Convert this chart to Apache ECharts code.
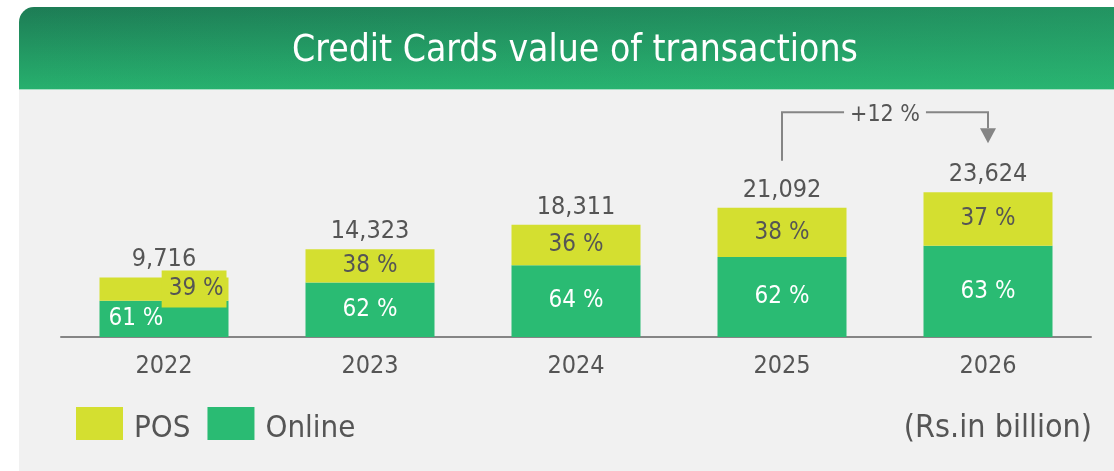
<!DOCTYPE html>
<html>
<head>
<meta charset="utf-8">
<script src="https://cdn.jsdelivr.net/npm/echarts@6/dist/echarts.min.js"></script>
<style>
  html, body { margin: 0; padding: 0; background: #ffffff; }
  #chart { width: 1114px; height: 471px; }
</style>
</head>
<body>
<div id="chart"></div>
<script>
// Credit card transaction value, split into Online and POS shares
const years = ['2022', '2023', '2024', '2025', '2026'];
const totals = [9716, 14323, 18311, 21092, 23624];      // Rs. billion
const onlinePct = [61, 62, 64, 62, 63];
const posPct = [39, 38, 36, 38, 37];
const growthText = '+12 %';                               // 2025 -> 2026
const titleText = 'Credit Cards value of transactions';
const unitText = '(Rs.in billion)';

const FONT = "'DejaVu Sans Condensed', 'DejaVu Sans', 'Noto Sans', sans-serif";
const GREEN = '#2abb73';
const YELLOW = '#d4df30';
const TEXT = '#555555';
const LINE = '#858585';

const onlineVals = totals.map((t, i) => t * onlinePct[i] / 100);
const posVals = totals.map((t, i) => t * posPct[i] / 100);

const chart = echarts.init(document.getElementById('chart'), null, { renderer: 'canvas' });

const baseGraphic = [
  { id: 'panel', type: 'rect', z: 0, silent: true,
    shape: { x: 19, y: 89, width: 1095, height: 382 },
    style: { fill: '#f1f1f1' } },
  { id: 'header', type: 'rect', z: 0, silent: true,
    shape: { x: 19, y: 7, width: 1095, height: 82, r: [15, 0, 0, 0] },
    style: { fill: new echarts.graphic.LinearGradient(0, 0, 0, 1, [
      { offset: 0, color: '#1d7c55' }, { offset: 1, color: '#27b06e' }]) } },
  { id: 'headerSheen', type: 'rect', z: 0, silent: true,
    shape: { x: 19, y: 7, width: 1095, height: 82, r: [15, 0, 0, 0] },
    style: { fill: new echarts.graphic.LinearGradient(0, 0, 1, 0, [
      { offset: 0, color: 'rgba(45,190,120,0)' }, { offset: 1, color: 'rgba(45,190,120,0.35)' }]) } },
  { id: 'headerEdge', type: 'rect', z: 0, silent: true,
    shape: { x: 19, y: 89, width: 1095, height: 1 },
    style: { fill: '#a9dfc4' } },
  { id: 'title', type: 'text', z: 5, silent: true,
    x: 575, y: 51,
    style: { text: titleText, fill: '#ffffff', font: '37px ' + FONT,
             align: 'center', verticalAlign: 'middle' } },
  { id: 'unit', type: 'text', z: 5, silent: true,
    x: 1092, y: 429,
    style: { text: unitText, fill: TEXT, font: '32px ' + FONT,
             align: 'right', verticalAlign: 'middle' } }
];

chart.setOption({
  animation: false,
  backgroundColor: '#ffffff',
  grid: { left: 61, right: 23, top: 92, bottom: 134 },
  legend: {
    data: ['POS', 'Online'],
    left: 76, top: 407, padding: 0,
    icon: 'rect', itemWidth: 47, itemHeight: 33, itemGap: 17,
    selectedMode: false,
    formatter: '{t|{name}}',
    textStyle: {
      fontFamily: FONT, fontSize: 31, color: TEXT,
      rich: { t: { fontFamily: FONT, fontSize: 31, color: TEXT, padding: [11, 0, 0, 6] } }
    }
  },
  xAxis: {
    type: 'category',
    data: years,
    axisLine: { lineStyle: { color: LINE, width: 2 } },
    axisTick: { show: false },
    axisLabel: { fontFamily: FONT, fontSize: 25, lineHeight: 25, color: TEXT, margin: 17 }
  },
  yAxis: { type: 'value', min: 0, max: 40000, show: false },
  graphic: baseGraphic,
  series: [
    {
      name: 'Online', type: 'bar', stack: 'total', barWidth: 129,
      itemStyle: { color: GREEN },
      emphasis: { disabled: true },
      label: {
        show: true, position: 'inside', color: '#ffffff',
        fontFamily: FONT, fontSize: 24, lineHeight: 24,
        formatter: p => onlinePct[p.dataIndex] + ' %'
      },
      data: onlineVals.map((v, i) => i === 0
        ? { value: v, label: { position: 'insideLeft', distance: 9, padding: [5, 0, 0, 0] } }
        : v)
    },
    {
      name: 'POS', type: 'bar', stack: 'total', barWidth: 129,
      itemStyle: { color: YELLOW },
      emphasis: { disabled: true },
      label: {
        show: true, position: 'inside', color: TEXT,
        fontFamily: FONT, fontSize: 24, lineHeight: 24,
        formatter: p => posPct[p.dataIndex] + ' %'
      },
      data: posVals.map((v, i) => i === 0
        ? { value: v, label: { position: 'insideRight', distance: 2,
            backgroundColor: YELLOW, padding: [7, 3, 6, 7] } }
        : v)
    },
    {
      // invisible bar spanning each full stack, used only to place the total above it
      name: 'Total', type: 'bar', data: totals, barWidth: 129, barGap: '-100%',
      itemStyle: { color: 'rgba(0,0,0,0)' }, silent: true,
      emphasis: { disabled: true }, z: 1,
      label: {
        show: true, position: 'top', distance: 5, color: TEXT,
        fontFamily: FONT, fontSize: 25, lineHeight: 25,
        formatter: p => p.value.toLocaleString('en-US')
      }
    }
  ]
});

// Growth arrow from the 2025 total to the 2026 total
const a = chart.convertToPixel({ gridIndex: 0 }, [years[3], totals[3]]);
const b = chart.convertToPixel({ gridIndex: 0 }, [years[4], totals[4]]);
const yBar = b[1] - 80;
const yStart = a[1] - 47;
const yTip = b[1] - 49;
const head = 15;

chart.setOption({
  graphic: baseGraphic.concat([
    { id: 'growthLine', type: 'polyline', z: 10, silent: true,
      shape: { points: [[a[0], yStart], [a[0], yBar], [b[0], yBar], [b[0], yTip - head]] },
      style: { stroke: LINE, lineWidth: 2, fill: null } },
    { id: 'growthHead', type: 'polygon', z: 10, silent: true,
      shape: { points: [[b[0] - 8, yTip - head], [b[0] + 8, yTip - head], [b[0], yTip]] },
      style: { fill: LINE } },
    { id: 'growthText', type: 'text', z: 11, silent: true,
      x: (a[0] + b[0]) / 2, y: yBar + 3,
      style: { text: growthText, fill: TEXT, font: '23px ' + FONT,
               align: 'center', verticalAlign: 'middle',
               backgroundColor: '#f1f1f1', padding: [0, 6] } }
  ])
});
</script>
</body>
</html>
